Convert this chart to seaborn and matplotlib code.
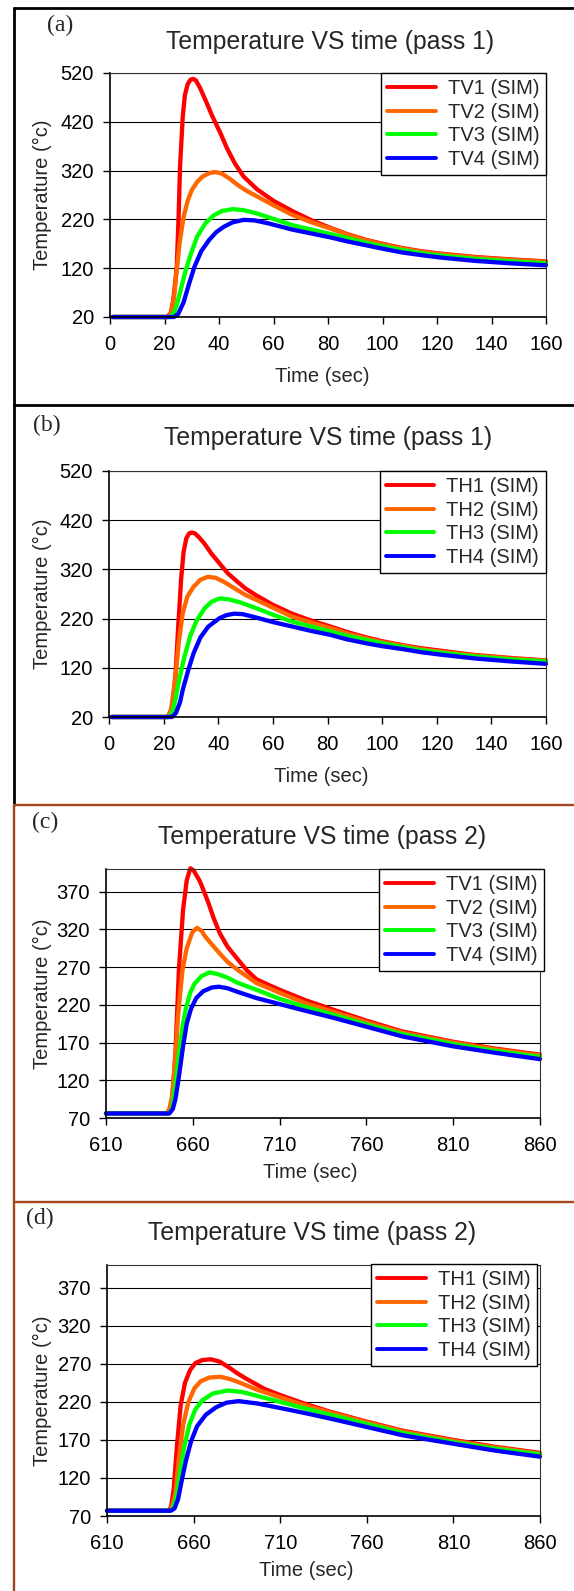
import numpy as np
import pandas as pd
import matplotlib
matplotlib.use("Agg")
import matplotlib.pyplot as plt
import seaborn as sns
from matplotlib.lines import Line2D

sns.set_theme(style="white")
plt.rcParams["font.family"] = ["Liberation Sans", "DejaVu Sans"]

# ---------------- data ----------------
# Panel (a): pass 1, vertical thermocouples
a_tv1_t = [1, 21, 22.3, 23.2, 24, 24.5, 25.2, 25.7, 26.7, 27.5, 28.5, 29.5, 30.5, 31.5, 33, 35, 37.5, 40.5, 43, 45.8,
           49, 53.9, 60, 67.3, 74, 80.7, 87, 94, 100, 107.5, 114, 121, 134, 147, 160]
a_tv1_T = [20, 20, 28, 54, 95, 123, 230, 328, 431, 475, 497, 506, 508, 505, 490, 465, 432, 397, 365, 335,
           308, 282, 258, 236, 218, 203, 190, 178, 170, 161, 155, 150, 143, 138, 134]
a_tv2_t = [1, 21.5, 22.5, 23.5, 24.4, 25.5, 27, 28.5, 30, 32, 34, 36.5, 38.5, 41, 44, 47, 50, 54, 60, 67,
           74, 81, 87, 94, 100, 107.5, 114, 121, 134, 147, 160]
a_tv2_T = [20, 20, 30, 60, 110, 170, 225, 258, 280, 297, 308, 315, 317, 314, 303, 290, 279, 267, 249, 229,
           214, 201, 189, 177, 169, 160, 154, 149, 142, 137, 133]
a_tv3_t = [1, 22, 23.5, 24.5, 25.7, 27.5, 29.7, 32, 35, 38, 41, 45, 49, 54, 60, 67, 74, 81, 87, 94,
           100, 107.5, 114, 121, 134, 147, 160]
a_tv3_T = [20, 20, 28, 45, 70, 110, 150, 185, 212, 228, 237, 241, 239, 232, 221, 208, 199, 190, 182, 172,
           165, 157, 151, 146, 139, 134, 130]
a_tv4_t = [1, 23.5, 25, 27, 29, 31, 33.5, 36.4, 39, 41.8, 45, 49, 53, 58, 67, 74, 81, 87, 94, 100,
           107.5, 114, 121, 134, 147, 160]
a_tv4_T = [20, 20, 26, 50, 88, 123, 155, 178, 194, 205, 214, 219, 218, 212, 199, 191, 183, 175, 167, 160,
           152, 147, 142, 135, 130, 126]

# Panel (b): pass 1, horizontal thermocouples
b_th1_t = [1, 21.5, 22.5, 23.3, 24.4, 25.3, 26.4, 27.3, 28.3, 29.3, 30.4, 31.5, 33, 35, 37.5, 40.5, 43.5, 47, 50, 54,
           60, 67, 74, 81, 87, 94, 100, 107.5, 114, 121, 134, 147, 160]
b_th1_T = [20, 20, 30, 45, 110, 200, 300, 355, 383, 393, 395, 393, 385, 372, 352, 332, 312, 295, 281, 267,
           248, 230, 216, 204, 193, 182, 174, 166, 160, 155, 146, 140, 135]
b_th2_t = [1, 21.5, 22.7, 24.4, 25.5, 27, 28.7, 31, 33.5, 36.2, 39, 42, 47, 50, 54, 60, 67, 74, 81, 87,
           94, 100, 107.5, 114, 121, 134, 147, 160]
b_th2_T = [20, 20, 35, 103, 170, 231, 265, 285, 299, 305, 303, 295, 278, 268, 258, 242, 224, 212, 201, 190,
           180, 172, 165, 158, 153, 145, 139, 134]
b_th3_t = [1, 22, 23.2, 24.3, 25.7, 27.5, 29.7, 32, 35, 37.5, 40.5, 44, 48, 54, 60, 67, 74, 81, 87, 94,
           100, 107.5, 114, 121, 134, 147, 160]
b_th3_T = [20, 20, 30, 55, 96, 140, 184, 215, 241, 254, 261, 259, 253, 241, 228, 214, 204, 194, 185, 177,
           170, 162, 156, 151, 143, 137, 133]
b_th4_t = [1, 23, 24.5, 26, 27, 29, 31, 33.5, 36.4, 40.5, 43, 45.8, 49, 54, 60, 67, 74, 81, 87, 94,
           100, 107.5, 114, 121, 134, 147, 160]
b_th4_T = [20, 20, 28, 50, 75, 115, 150, 182, 204, 221, 227, 230, 229, 222, 213, 204, 195, 187, 178, 170,
           164, 158, 152, 147, 139, 133, 128]

# Panel (c): pass 2, vertical thermocouples
c_tv1_t = [610, 645, 646.5, 648, 650, 652, 654.4, 656.5, 658.6, 660.5, 662, 664, 666.5, 669, 672, 675.5, 680, 686,
           691, 696.6, 703, 710, 725, 739, 760, 781, 810, 834, 860]
c_tv1_T = [76, 76, 80, 89, 156, 267, 346, 385, 401, 398, 392, 384, 370, 355, 335, 315, 297, 280,
           266, 254, 247, 240, 226, 215, 199, 184.5, 171, 162, 154]
c_tv2_t = [610, 645, 646.5, 648, 650, 651.5, 654, 656.5, 659.7, 662.4, 665, 667, 671, 675.5, 680, 686, 696.6,
           710, 725, 739, 760, 781, 810, 834, 860]
c_tv2_T = [76, 76, 82, 98, 150, 205, 265, 295, 316, 322, 318, 311, 300, 288, 277, 266, 249,
           236, 222, 212, 197, 183, 170, 161, 153]
c_tv3_t = [610, 646, 648, 650, 652, 654, 656, 658.5, 661, 665, 669.6, 674, 680, 686, 696.6, 710, 725, 739,
           760, 781, 810, 834, 860]
c_tv3_T = [76, 76, 82, 115, 155, 190, 215, 236, 248, 258, 263, 261, 256, 249, 240, 228, 217, 208,
           194, 181, 168, 159, 151]
c_tv4_t = [610, 646.5, 648.5, 650, 652, 654.4, 656.5, 659, 662, 666, 671, 675, 680, 686, 696.6, 710, 725, 739,
           760, 781, 810, 834, 860]
c_tv4_T = [76, 76, 82, 95, 125, 165, 195, 215, 229, 238, 243, 244, 242, 237, 229, 221, 212, 204,
           191, 178, 165, 156.5, 148]

# Panel (d): pass 2, horizontal thermocouples
d_th1_t = [610, 645.5, 647, 648.5, 650.5, 652.5, 655, 658, 661, 665, 670, 675, 680, 685, 690, 701, 710, 725, 739,
           760, 781, 810, 834, 860]
d_th1_T = [77, 77, 82, 105, 165, 215, 245, 262, 271, 275, 276, 273, 266, 258, 251, 237, 229, 217, 207,
           194, 182, 170, 161, 153]
d_th2_t = [610, 646, 647.5, 649.5, 651.5, 654, 657, 660.5, 664, 669, 675.5, 681, 686, 696.6, 710, 725, 739,
           760, 781, 810, 834, 860]
d_th2_T = [77, 77, 82, 100, 145, 190, 220, 238, 247, 252, 253, 250, 246, 236, 226, 215, 206,
           193, 181, 169, 160, 152]
d_th3_t = [610, 646.5, 648, 650, 652, 654.5, 657.5, 661, 665, 671, 679.7, 688, 696.6, 710, 725, 739,
           760, 781, 810, 834, 860]
d_th3_T = [77, 77, 80, 95, 125, 160, 190, 210, 222, 231, 235, 233, 228, 220, 211, 203,
           191, 179, 167, 158.5, 151]
d_th4_t = [610, 647, 649, 651, 653, 655.5, 658.5, 662, 667, 673, 679, 686, 696.6, 710, 725, 739,
           760, 781, 810, 834, 860]
d_th4_T = [77, 77, 80, 92, 115, 142, 168, 188, 203, 213, 219, 221, 218, 212, 205, 198,
           187, 176, 165, 156, 148]

tv_names = ["TV1 (SIM)", "TV2 (SIM)", "TV3 (SIM)", "TV4 (SIM)"]
th_names = ["TH1 (SIM)", "TH2 (SIM)", "TH3 (SIM)", "TH4 (SIM)"]
titles = ["Temperature VS time (pass 1)", "Temperature VS time (pass 1)",
          "Temperature VS time (pass 2)", "Temperature VS time (pass 2)"]
letters = ["(a)", "(b)", "(c)", "(d)"]
x_ticks_p1 = [0, 20, 40, 60, 80, 100, 120, 140, 160]
y_ticks_p1 = [20, 120, 220, 320, 420, 520]
x_ticks_p2 = [610, 660, 710, 760, 810, 860]
y_ticks_p2 = [70, 120, 170, 220, 270, 320, 370]
x_label = "Time (sec)"
y_label = "Temperature (°c)"

series_colors = ["#FF0000", "#FF6600", "#00FF00", "#0000FF"]

panel_series = [
    [(a_tv1_t, a_tv1_T), (a_tv2_t, a_tv2_T), (a_tv3_t, a_tv3_T), (a_tv4_t, a_tv4_T)],
    [(b_th1_t, b_th1_T), (b_th2_t, b_th2_T), (b_th3_t, b_th3_T), (b_th4_t, b_th4_T)],
    [(c_tv1_t, c_tv1_T), (c_tv2_t, c_tv2_T), (c_tv3_t, c_tv3_T), (c_tv4_t, c_tv4_T)],
    [(d_th1_t, d_th1_T), (d_th2_t, d_th2_T), (d_th3_t, d_th3_T), (d_th4_t, d_th4_T)],
]
panel_names = [tv_names, th_names, tv_names, th_names]
panel_xlim = [(0, 160), (0, 160), (610, 860), (610, 860)]
panel_ylim = [(20, 520), (20, 520), (70, 400), (70, 400)]
panel_xticks = [x_ticks_p1, x_ticks_p1, x_ticks_p2, x_ticks_p2]
panel_yticks = [y_ticks_p1, y_ticks_p1, y_ticks_p2, y_ticks_p2]

# ---------------- layout (pixels, top-left origin) ----------------
W, H = 574, 1591
DPI = 100
ax_px = [(110, 73, 546, 317), (109, 471, 546, 717), (106, 869, 540, 1118), (107, 1265, 540, 1516)]
leg_px = [(381, 73), (379.5, 471), (379, 869), (371, 1264)]
letter_px = [(60, 25), (47, 425), (45, 822), (40, 1218)]
title_px = [(330, 42), (328, 438), (322, 837), (312, 1233)]
xlabel_px = [(322, 377), (321, 777), (310, 1173), (306, 1570)]
ylabel_x = 42

fig = plt.figure(figsize=(W / DPI, H / DPI), dpi=DPI)
fig.patch.set_facecolor("white")


def fx(x):
    return x / W


def fy(y):
    return 1 - y / H


for i in range(4):
    l, t, r, b = ax_px[i]
    ax = fig.add_axes([fx(l), fy(b), (r - l) / W, (b - t) / H])
    rows = []
    for name, (ts, Ts) in zip(panel_names[i], panel_series[i]):
        for tt, TT in zip(ts, Ts):
            rows.append((tt, TT, name))
    df = pd.DataFrame(rows, columns=["time", "temp", "series"])
    sns.lineplot(data=df, x="time", y="temp", hue="series", hue_order=panel_names[i],
                 palette=series_colors, estimator=None, sort=False, lw=3.1, ax=ax,
                 solid_capstyle="round", solid_joinstyle="round")
    for ln in ax.get_lines():
        ln.set_clip_on(False)
    ax.set_xlim(*panel_xlim[i])
    ax.set_ylim(*panel_ylim[i])
    ax.set_xticks(panel_xticks[i])
    ax.set_yticks(panel_yticks[i])
    ax.set_xlabel("")
    ax.set_ylabel("")
    ax.yaxis.grid(True, color="black", lw=0.8)
    ax.xaxis.grid(False)
    ax.set_axisbelow(True)
    for s in ["left", "bottom"]:
        ax.spines[s].set_color("black")
        ax.spines[s].set_linewidth(1.2)
    for s in ["top", "right"]:
        ax.spines[s].set_color("#333333")
        ax.spines[s].set_linewidth(0.8)
    ax.tick_params(axis="both", which="major", direction="out", length=5, width=1.0,
                   color="black", labelsize=14.5, labelcolor="black", bottom=True, left=True)
    ax.tick_params(axis="x", pad=8)
    ax.tick_params(axis="y", pad=6.5)

    handles, labels = ax.get_legend_handles_labels()
    lx, ly = leg_px[i]
    leg = ax.legend(handles, labels, loc="upper left", bbox_to_anchor=(fx(lx), fy(ly)),
                    bbox_transform=fig.transFigure, fontsize=14.5, frameon=True, fancybox=False,
                    framealpha=1, edgecolor="black", borderpad=0.32, labelspacing=0.22,
                    handlelength=2.4, handletextpad=0.6, borderaxespad=0)
    leg.get_frame().set_linewidth(1.0)
    for h in leg.get_lines():
        h.set_linewidth(2.8)

    fig.text(fx(letter_px[i][0]), fy(letter_px[i][1]), letters[i], ha="center", va="center",
             fontsize=17, family=["Liberation Serif", "DejaVu Serif"])
    fig.text(fx(title_px[i][0]), fy(title_px[i][1]), titles[i], ha="center", va="center",
             fontsize=17.8)
    fig.text(fx(xlabel_px[i][0]), fy(xlabel_px[i][1]), x_label, ha="center", va="center",
             fontsize=14.5)
    fig.text(fx(ylabel_x), fy((t + b) / 2), y_label, ha="center", va="center",
             rotation=90, fontsize=14.5)

# ---------------- panel borders ----------------
black, brown = "black", "#A3461B"
fig.add_artist(Line2D([fx(14), fx(574)], [fy(8), fy(8)], color=black, lw=2.0))
fig.add_artist(Line2D([fx(14), fx(14)], [fy(8), fy(805)], color=black, lw=2.0))
fig.add_artist(Line2D([fx(14), fx(574)], [fy(405), fy(405)], color=black, lw=2.0))
fig.add_artist(Line2D([fx(14), fx(14)], [fy(805), fy(1591)], color=brown, lw=1.7))
fig.add_artist(Line2D([fx(14), fx(574)], [fy(805), fy(805)], color=brown, lw=1.7))
fig.add_artist(Line2D([fx(14), fx(574)], [fy(1202), fy(1202)], color=brown, lw=1.7))

fig.savefig("out.png", dpi=DPI, facecolor="white")
